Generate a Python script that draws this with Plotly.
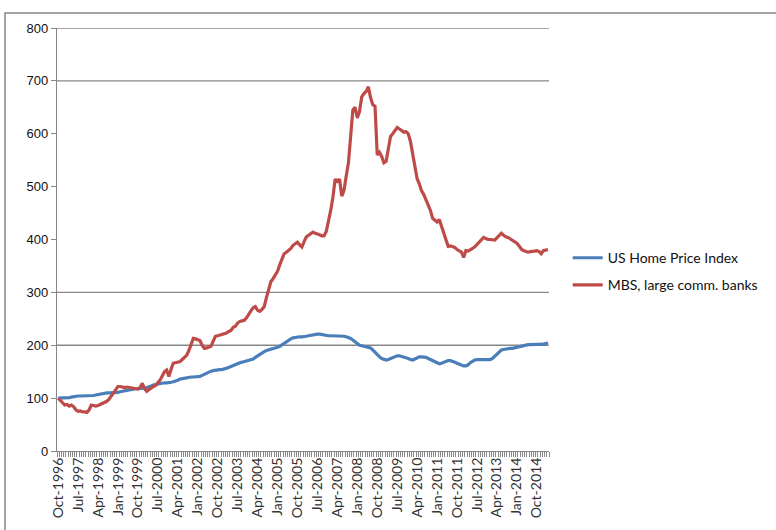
import pandas as pd
import plotly.graph_objects as go

# Monthly observations, Oct-1996 through Mar-2015
months = pd.date_range("1996-10-01", "2015-03-01", freq="MS")
month_labels = [d.strftime("%b-%Y") for d in months]

home_price_index = [
    100, 100, 100, 100, 100, 101, 102, 103, 103, 104, 104, 104,
    104, 104, 104, 104, 105, 106, 107, 108, 109, 109, 110, 110,
    110, 110, 110, 111, 112, 113, 114, 115, 116, 117, 117, 118,
    118, 118, 119, 119, 120, 121, 123, 125, 126, 127, 128, 128,
    129, 129, 129, 130, 131, 132, 134, 136, 137, 138, 139, 139,
    140, 140, 140, 140, 141, 143, 145, 148, 150, 151, 152, 153,
    153, 154, 154, 155, 156, 158, 160, 162, 164, 166, 167, 168,
    169, 170, 171, 172, 174, 177, 180, 183, 186, 188, 190, 191,
    192, 193, 194, 196, 198, 201, 204, 207, 210, 212, 214, 215,
    216, 216, 216, 216, 217, 218, 219, 220, 221, 221, 221, 220,
    220, 219, 218, 218, 218, 218, 218, 218, 218, 217, 216, 215,
    213, 210, 206, 202, 200, 199, 198, 198, 197, 195, 191, 186,
    181, 178, 175, 173, 172, 173, 175, 177, 179, 180, 180, 179,
    178, 177, 175, 173, 172, 174, 176, 178, 178, 178, 177, 175,
    173, 171, 168, 166, 165, 166, 168, 170, 171, 171, 170, 168,
    166, 164, 162, 161, 161, 163, 167, 170, 172, 173, 173, 172,
    172, 172, 172, 173, 175, 179, 184, 188, 191, 192, 193, 193,
    194, 194, 195, 197, 198, 199, 200, 201, 201, 201, 201, 201,
    201, 201, 201, 202, 203, 205,
]

mbs_large_banks = [
    100, 96, 92, 87, 88, 85, 87, 84, 78, 75, 76, 74,
    74, 73, 78, 87, 86, 85, 86, 88, 90, 92, 94, 98,
    104, 110, 118, 122, 122, 121, 120, 121, 120, 119, 118, 117,
    117, 120, 128, 118, 113, 116, 120, 122, 124, 128, 134, 142,
    150, 153, 141, 155, 166, 167, 168, 169, 173, 178, 181, 190,
    204, 213, 212, 210, 209, 200, 194, 195, 196, 198, 208, 217,
    218, 219, 220, 221, 223, 226, 228, 234, 236, 242, 245, 246,
    247, 252, 260, 265, 271, 273, 266, 264, 268, 273, 290, 306,
    320, 326, 334, 340, 352, 362, 373, 376, 379, 383, 389, 393,
    395, 390, 386, 396, 405, 408, 412, 414, 412, 411, 409, 407,
    407, 415, 432, 455, 480, 514, 510, 514, 482, 493, 520, 545,
    595, 645, 650, 630, 642, 670, 676, 680, 689, 668, 655, 652,
    560, 565, 557, 545, 548, 575, 595, 600, 605, 612, 609, 606,
    603, 604, 600, 585, 560, 537, 515, 505, 492, 485, 475, 465,
    455, 440, 436, 433, 438, 424, 414, 398, 387, 388, 386, 385,
    381, 378, 376, 366, 379, 378, 380, 383, 386, 390, 395, 400,
    404, 402, 400, 400, 399, 399, 403, 407, 412, 408, 405, 404,
    401, 398, 396, 393, 388, 382, 379, 377, 376, 377, 377, 378,
    379, 377, 373, 379, 380, 381,
]

label_step = 9
tick_positions = list(range(0, len(month_labels), label_step))
tick_text = [month_labels[i] for i in tick_positions]
visible_gridlines = [200, 300, 700, 800]

x = list(range(len(month_labels)))

fig = go.Figure()
fig.add_trace(go.Scatter(
    x=x, y=home_price_index, mode="lines", name="US Home Price Index",
    legendgroup="hpi",
    line=dict(color="#4A7EBB", width=3.2), customdata=month_labels,
    hovertemplate="%{customdata}: %{y}<extra></extra>",
))
fig.add_trace(go.Scatter(
    x=x, y=mbs_large_banks, mode="lines", name="MBS, large comm. banks",
    legendgroup="mbs",
    line=dict(color="#BE4B48", width=3.2), customdata=month_labels,
    hovertemplate="%{customdata}: %{y}<extra></extra>",
))

for g in visible_gridlines:
    fig.add_shape(type="line", xref="paper", yref="y", x0=0, x1=1, y0=g, y1=g,
                  line=dict(color="#878787", width=1.3), layer="below")

# outer chart frame
fig.add_shape(type="rect", xref="paper", yref="paper",
              x0=-0.1057, x1=1.6, y0=-0.5, y1=1.0353,
              line=dict(color="#878787", width=1.5), fillcolor="rgba(0,0,0,0)")

fig.update_layout(
    width=776, height=530,
    margin=dict(l=57, r=227, t=28, b=77),
    paper_bgcolor="white", plot_bgcolor="white",
    font=dict(family="Lato, Liberation Sans, sans-serif", size=14, color="#222"),
    showlegend=True,
    legend=dict(x=1.038, y=0.424, xanchor="left", yanchor="middle",
                font=dict(size=14, color="#111"), tracegroupgap=6,
                itemwidth=30, bgcolor="rgba(0,0,0,0)"),
    xaxis=dict(
        range=[-0.5, len(month_labels) - 0.5],
        tickmode="array", tickvals=tick_positions, ticktext=tick_text,
        tickangle=-90, ticks="", showgrid=False, zeroline=False,
        showline=True, linecolor="#878787", linewidth=1.3,
        tickfont=dict(family="Lato, Liberation Sans, sans-serif", size=14, color="#333"),
        minor=dict(tickmode="linear", tick0=-0.5, dtick=1, ticks="outside",
                   ticklen=5, tickcolor="#878787", tickwidth=1, showgrid=False),
    ),
    yaxis=dict(
        range=[0, 800], tickmode="linear", tick0=0, dtick=100,
        showgrid=False, zeroline=False, showline=True,
        linecolor="#878787", linewidth=1.3,
        ticks="outside", ticklen=5, tickcolor="#878787",
        tickfont=dict(family="Liberation Sans Narrow, Liberation Sans, sans-serif",
                      size=13, color="#111"),
    ),
)

fig.write_html("out.html")
